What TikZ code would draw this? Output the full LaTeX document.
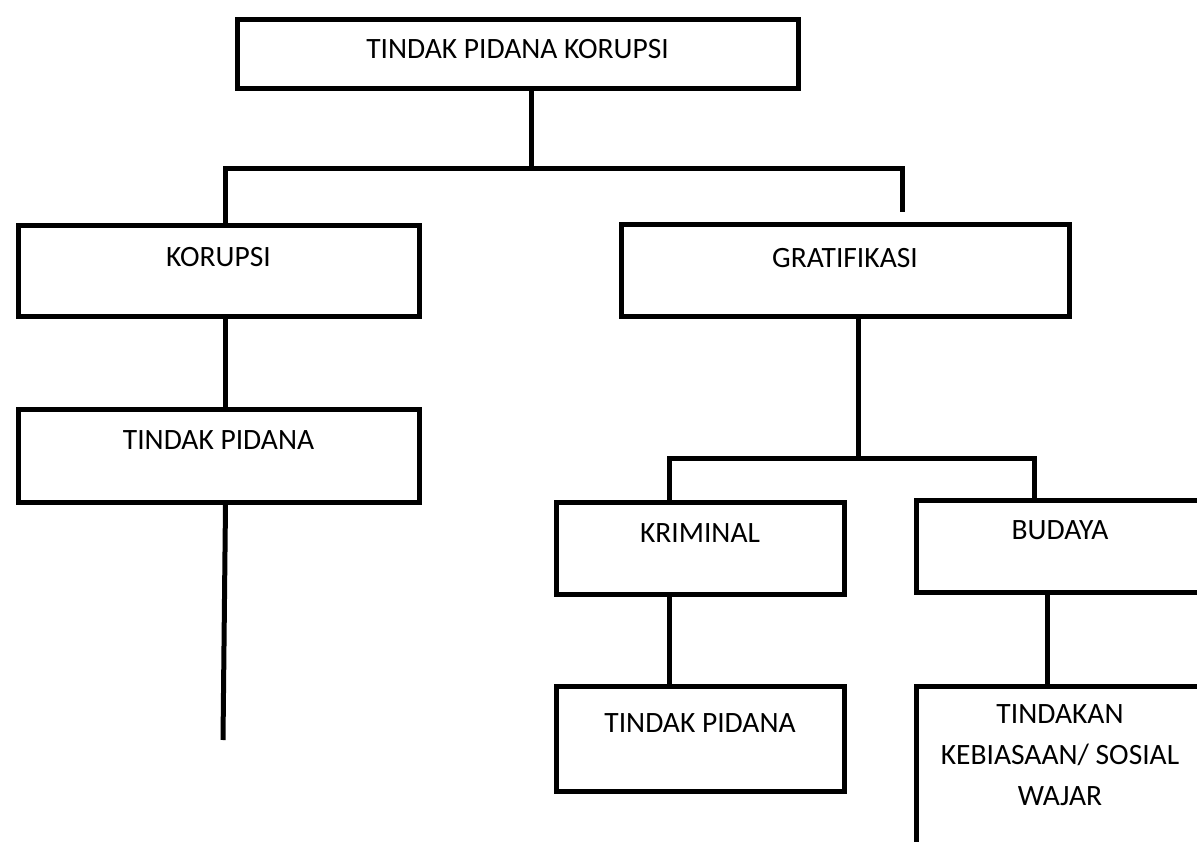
\documentclass[tikz,border=0pt]{standalone}
\usepackage{fontspec}
\setmainfont{Carlito}
\begin{document}
\begin{tikzpicture}[x=1pt,y=-1pt,
    kotak/.style={draw, line width=5pt, inner sep=0pt, anchor=north west,
        font=\fontsize{29.5}{41}\selectfont},
    garis/.style={line width=5pt}]
            \useasboundingbox (0,0) rectangle (1197,842);
            \clip (0,0) rectangle (1197,842);
            % kotak-kotak
            \node[kotak, minimum width=561pt, text height=39pt, text depth=30pt] (judul) at (234.5,17.5) {TINDAK PIDANA KORUPSI};
            \node[kotak, minimum width=401pt, text height=40.5pt, text depth=50.5pt] (korupsi) at (15.5,223.5) {KORUPSI};
            \node[kotak, minimum width=401pt, text height=40.5pt, text depth=52.5pt] (tpkiri) at (15.5,406.5) {TINDAK PIDANA};
            \node[kotak, minimum width=448pt, text height=42.5pt, text depth=49.5pt] (gratifikasi) at (618.5,222.5) {GRATIFIKASI};
            \node[kotak, minimum width=288pt, text height=40.5pt, text depth=51.5pt] (kriminal) at (553.5,499.5) {KRIMINAL};
            \node[kotak, minimum width=288pt, text height=46.5pt, text depth=58.5pt] (tpkanan) at (553.5,683.5) {TINDAK PIDANA};
            \node[kotak, minimum width=288pt, text height=39.5pt, text depth=52.5pt] (budaya) at (913.5,497.5) {BUDAYA};
            \node[kotak, align=center, minimum width=288pt, text height=119.5pt, text depth=100pt] (tindakan) at (913.5,683.5) {TINDAKAN\\KEBIASAAN/ SOSIAL\\WAJAR};
            % garis penghubung
            \coordinate (cabangA) at (531,169);
            \coordinate (ujungA) at (902,212);
            \coordinate (ujungB) at (223,740);
            \coordinate (cabangB) at (858,458);
            \draw[garis] (judul.south -| cabangA) -- (cabangA);
            \draw[garis] ([xshift=7pt]korupsi.north) |- (cabangA) -| (ujungA);
            \draw[garis] ([xshift=7pt]korupsi.south) -- ([xshift=7pt]tpkiri.north);
            \draw[garis] ([xshift=7pt]tpkiri.south) -- (ujungB);
            \draw[garis] (gratifikasi.south -| cabangB) -- (cabangB);
            \draw[garis] ([xshift=-30.5pt]kriminal.north) |- (cabangB) -| ([xshift=-25.5pt]budaya.north);
            \draw[garis] ([xshift=-30.5pt]kriminal.south) -- ([xshift=-30.5pt]tpkanan.north);
            \draw[garis] ([xshift=-12.5pt]budaya.south) -- ([xshift=-12.5pt]tindakan.north);
        \end{tikzpicture}
\end{document}
